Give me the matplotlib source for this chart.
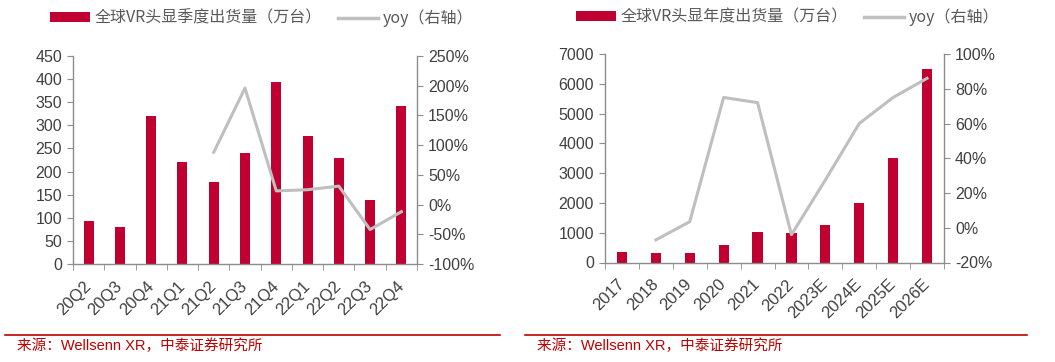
import matplotlib
matplotlib.use("Agg")
import matplotlib.pyplot as plt
from matplotlib.lines import Line2D
from matplotlib.patches import Patch
import numpy as np

plt.rcParams['font.family'] = ['Liberation Sans', 'Noto Sans CJK SC', 'DejaVu Sans']

# ---- data: quarterly ----
q_labels = ["20Q2", "20Q3", "20Q4", "21Q1", "21Q2", "21Q3", "21Q4", "22Q1", "22Q2", "22Q3", "22Q4"]
q_ship = [93, 81, 320, 221, 177, 240, 393, 277, 230, 139, 342]
q_yoy = [None, None, None, None, 88, 196, 23, 25, 31, -42, -12]

# ---- data: annual ----
y_labels = ["2017", "2018", "2019", "2020", "2021", "2022", "2023E", "2024E", "2025E", "2026E"]
y_ship = [350, 330, 335, 600, 1020, 980, 1250, 2000, 3500, 6500]
y_yoy = [None, -7, 3.5, 75, 72, -4, 27.5, 60, 75, 86]

BAR = "#C00030"
LINE = "#BFBFBF"
SPINE = "#8C8C8C"
TXT = "#404040"
SRC = "#C00000"

fig = plt.figure(figsize=(10.55, 3.62), dpi=100)

CJK = ['Noto Sans CJK SC', 'DejaVu Sans']


def draw(rect, labels, ship, yoy, ylim, yticks, rlim, rticks, width, bar_label, leg_pos):
    ax = fig.add_axes(rect)
    n = len(labels)
    x = np.arange(n)
    ax.bar(x, ship, width=width, color=BAR, zorder=2)
    ax.set_xlim(-0.5, n - 0.5)
    ax.set_ylim(*ylim)
    ax.set_yticks(yticks)
    ax.set_yticklabels([str(v) for v in yticks])
    ax.set_xticks(x)
    ax.set_xticklabels(labels, rotation=45, ha='right', va='center', rotation_mode='anchor')
    ax.set_xticks(np.arange(n + 1) - 0.5, minor=True)
    ax.tick_params(axis='x', which='major', length=0, pad=14, labelsize=12, labelcolor=TXT)
    ax.tick_params(axis='x', which='minor', length=4, color=SPINE, direction='out')
    ax.tick_params(axis='y', length=4, color=SPINE, labelsize=11.5, labelcolor=TXT, pad=4)
    for s in ['top', 'right']:
        ax.spines[s].set_visible(False)
    for s in ['left', 'bottom']:
        ax.spines[s].set_color(SPINE)
        ax.spines[s].set_linewidth(1)

    ax2 = ax.twinx()
    xs = [i for i, v in enumerate(yoy) if v is not None]
    vs = [v for v in yoy if v is not None]
    ax2.plot(xs, vs, color=LINE, lw=2.2, zorder=3)
    ax2.set_ylim(*rlim)
    ax2.set_yticks(rticks)
    ax2.set_yticklabels([f"{v}%" for v in rticks])
    ax2.tick_params(axis='y', length=4, color=SPINE, labelsize=11.5, labelcolor=TXT, pad=4)
    for s in ['top', 'left', 'bottom']:
        ax2.spines[s].set_visible(False)
    ax2.spines['right'].set_color(SPINE)
    ax2.spines['right'].set_linewidth(1)

    handles = [Patch(facecolor=BAR, edgecolor='none'),
               Line2D([0], [0], color=LINE, lw=2.5)]
    fig.legend(handles, [bar_label, "yoy（右轴）"], loc='center left',
               bbox_to_anchor=leg_pos, bbox_transform=fig.transFigure,
               ncol=2, frameon=False, prop={'family': CJK, 'size': 11.5},
               labelcolor='#595959', handlelength=2.5, handleheight=0.55,
               handletextpad=0.3, columnspacing=1.0, borderaxespad=0, borderpad=0)
    return ax


draw([73/1055, 1 - 264/362, (417-73)/1055, (264-56)/362], q_labels, q_ship, q_yoy,
     (0, 450), list(range(0, 451, 50)), (-100, 250), list(range(-100, 251, 50)), 0.32,
     "全球VR头显季度出货量（万台）", (50/1055, 1 - 18/362))

draw([605/1055, 1 - 262.5/362, (944-605)/1055, (262.5-54)/362], y_labels, y_ship, y_yoy,
     (0, 7000), list(range(0, 7001, 1000)), (-20, 100), list(range(-20, 101, 20)), 0.3,
     "全球VR头显年度出货量（万台）", (576/1055, 1 - 17/362))

# source lines
fig.add_artist(Line2D([5/1055, 500/1055], [1 - 335/362] * 2, color=SRC, lw=1.2))
fig.add_artist(Line2D([525/1055, 1027/1055], [1 - 335/362] * 2, color=SRC, lw=1.2))
fig.text(17/1055, 1 - 346/362, "来源：Wellsenn XR，中泰证券研究所", color=SRC, fontsize=10.5,
         family=['Liberation Sans', 'Noto Sans CJK SC'], va='center', ha='left')
fig.text(537/1055, 1 - 346/362, "来源：Wellsenn XR，中泰证券研究所", color=SRC, fontsize=10.5,
         family=['Liberation Sans', 'Noto Sans CJK SC'], va='center', ha='left')

fig.savefig("out.png", dpi=100)
